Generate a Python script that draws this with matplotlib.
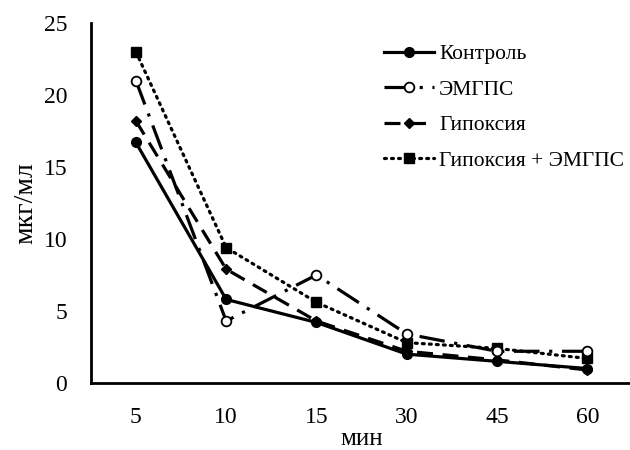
import matplotlib
matplotlib.use("Agg")
import matplotlib.pyplot as plt

categories = ["5", "10", "15", "30", "45", "60"]
kontrol = [16.7, 5.8, 4.2, 2.0, 1.5, 1.0]
emgps = [21.0, 4.3, 7.5, 3.4, 2.2, 2.2]
gipoksia = [18.2, 7.9, 4.3, 2.2, 1.6, 0.9]
gip_emgps = [23.0, 9.4, 5.6, 2.8, 2.4, 1.7]
labels = ["Контроль", "ЭМГПС", "Гипоксия", "Гипоксия + ЭМГПС"]
yticks = [0, 5, 10, 15, 20, 25]

plt.rcParams['font.family'] = ['Liberation Serif', 'DejaVu Serif']

fig = plt.figure(figsize=(6.3, 4.5), dpi=100)
ax = fig.add_axes([0.144, 0.149, 0.86, 0.80])

x = list(range(len(categories)))
lw = 2.3
ax.plot(x, kontrol, color='black', lw=lw, linestyle='-', marker='o', ms=7,
        mfc='black', mec='black', label=labels[0], zorder=5)
ax.plot(x, emgps, color='black', lw=lw, linestyle=(0, (8, 3, 1, 3)), marker='o', ms=7,
        mfc='white', mec='black', mew=1.3, label=labels[1], zorder=4)
ax.plot(x, gipoksia, color='black', lw=lw, linestyle=(0, (5, 3)), marker='D', ms=5.5,
        mfc='black', mec='black', label=labels[2], zorder=3)
ax.plot(x, gip_emgps, color='black', lw=lw, linestyle=(0, (0.6, 1.6)), marker='s', ms=7,
        mfc='black', mec='black', label=labels[3], zorder=3, dash_capstyle='round')

ax.set_xlim(-0.5, 5.5)
ax.set_ylim(0, 25)
ax.set_xticks(x)
ax.set_xticklabels(categories)
ax.set_yticks(yticks)
ax.tick_params(axis='both', length=0, labelsize=17)
ax.tick_params(axis='x', pad=17)
ax.tick_params(axis='y', pad=17)
for s in ['top', 'right']:
    ax.spines[s].set_visible(False)
for s in ['left', 'bottom']:
    ax.spines[s].set_linewidth(2)
    ax.spines[s].set_color('black')
ax.set_xlabel("мин", fontsize=18, labelpad=0)
ax.set_ylabel("мкг/мл", fontsize=20, labelpad=4)

ax.legend(loc='upper left', bbox_to_anchor=(0.596, 0.921), bbox_transform=fig.transFigure,
          frameon=False, fontsize=15.5, handlelength=2.3, labelspacing=0.72,
          handletextpad=0.25, borderaxespad=0)

fig.savefig("out.png", dpi=100)
